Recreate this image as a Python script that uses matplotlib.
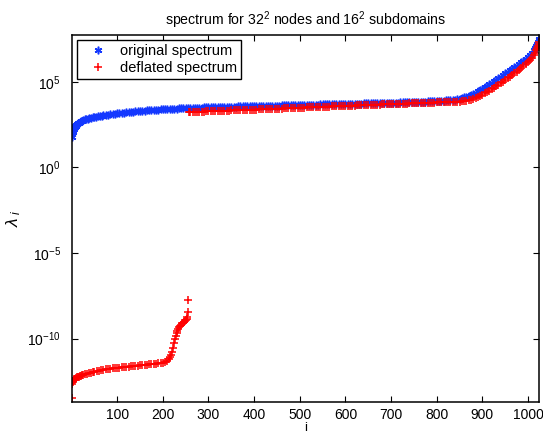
import numpy as np
import matplotlib
matplotlib.use('Agg')
import matplotlib.pyplot as plt

plt.rcParams['font.family'] = ['Liberation Sans', 'DejaVu Sans']
plt.rcParams['mathtext.fontset'] = 'custom'
plt.rcParams['mathtext.rm'] = 'Liberation Sans'
plt.rcParams['mathtext.it'] = 'Liberation Sans:italic'
plt.rcParams['font.size'] = 10

# original spectrum: index i and log10(lambda_i)
orig_i = [1, 2, 3, 4, 5, 6, 7, 8, 9, 10, 12, 14, 16, 18, 20, 23, 26, 29, 32, 35, 38,
          42, 46, 50, 54, 58, 62, 66, 70, 75, 80, 85, 90, 95] \
    + list(range(100, 1001, 5)) + [1004, 1008, 1012, 1015, 1018, 1020, 1022, 1023, 1024]
orig_log = [1.81, 1.98, 2.10, 2.19, 2.26, 2.32, 2.37, 2.41, 2.45, 2.48, 2.54, 2.58, 2.62,
            2.66, 2.69, 2.74, 2.78, 2.81, 2.84, 2.86, 2.88, 2.91, 2.93, 2.95, 2.97, 2.99,
            3.01, 3.03, 3.05, 3.07, 3.09, 3.11, 3.13, 3.15,
            # 100 - 195
            3.17, 3.18, 3.20, 3.21, 3.23, 3.24, 3.25, 3.26, 3.28, 3.29,
            3.30, 3.31, 3.32, 3.33, 3.34, 3.35, 3.36, 3.37, 3.38, 3.39,
            # 200 - 295
            3.40, 3.40, 3.41, 3.42, 3.43, 3.43, 3.44, 3.45, 3.46, 3.46,
            3.47, 3.47, 3.48, 3.48, 3.49, 3.49, 3.50, 3.50, 3.51, 3.51,
            # 300 - 395
            3.52, 3.52, 3.53, 3.53, 3.53, 3.54, 3.54, 3.54, 3.55, 3.55,
            3.56, 3.56, 3.56, 3.57, 3.57, 3.57, 3.58, 3.58, 3.58, 3.59,
            # 400 - 495
            3.59, 3.59, 3.60, 3.60, 3.60, 3.61, 3.61, 3.61, 3.61, 3.62,
            3.62, 3.62, 3.63, 3.63, 3.63, 3.64, 3.64, 3.64, 3.64, 3.65,
            # 500 - 595
            3.65, 3.65, 3.66, 3.66, 3.66, 3.67, 3.67, 3.67, 3.67, 3.68,
            3.68, 3.68, 3.69, 3.69, 3.69, 3.70, 3.70, 3.70, 3.70, 3.71,
            # 600 - 695
            3.71, 3.71, 3.72, 3.72, 3.72, 3.73, 3.73, 3.73, 3.74, 3.74,
            3.74, 3.75, 3.75, 3.75, 3.76, 3.76, 3.77, 3.77, 3.77, 3.78,
            # 700 - 795
            3.78, 3.78, 3.79, 3.79, 3.80, 3.80, 3.81, 3.81, 3.82, 3.82,
            3.83, 3.83, 3.84, 3.84, 3.85, 3.85, 3.86, 3.86, 3.87, 3.87,
            # 800 - 895
            3.88, 3.89, 3.90, 3.91, 3.92, 3.93, 3.94, 3.95, 3.96, 3.98,
            4.01, 4.05, 4.09, 4.14, 4.19, 4.25, 4.31, 4.38, 4.45, 4.53,
            # 900 - 1000
            4.61, 4.69, 4.77, 4.85, 4.94, 5.03, 5.12, 5.21, 5.31, 5.40,
            5.50, 5.59, 5.68, 5.77, 5.86, 5.95, 6.05, 6.14, 6.25, 6.36,
            6.47,
            6.58, 6.70, 6.84, 6.96, 7.09, 7.19, 7.31, 7.39, 7.49]

# deflated spectrum: the 256 near-zero eigenvalues, then the rest
defl_i = [1, 2, 3, 4, 5, 6, 7, 8, 10, 12, 14, 16, 18, 20, 23, 26, 30, 34, 38, 42, 46, 50] \
    + list(range(55, 201, 5)) \
    + [205, 210, 213, 216, 218, 220, 222, 224, 226, 228, 230, 232, 234, 236, 238, 240,
       242, 244, 246, 248, 250, 252, 254, 255, 256, 257] \
    + list(range(260, 1001, 5)) + [1004, 1008, 1012, 1015, 1018, 1020, 1022, 1023, 1024]
defl_log = [-13.45, -12.63, -12.52, -12.46, -12.41, -12.38, -12.35, -12.33, -12.29, -12.26,
            -12.23, -12.22, -12.20, -12.19, -12.15, -12.12, -12.08, -12.05, -12.01, -11.98,
            -11.95, -11.93,
            # 55 - 200
            -11.90, -11.87, -11.85, -11.82, -11.80, -11.78, -11.76, -11.74, -11.72, -11.70,
            -11.69, -11.67, -11.66, -11.64, -11.63, -11.61, -11.60, -11.59, -11.57, -11.56,
            -11.55, -11.53, -11.52, -11.50, -11.49, -11.47, -11.46, -11.44, -11.43, -11.41,
            # 205 - 257
            -11.36, -11.28, -11.20, -11.10, -10.95, -10.75, -10.52, -10.28, -10.03, -9.82,
            -9.65, -9.53, -9.43, -9.34, -9.26, -9.18, -9.11, -9.08, -9.05, -8.98,
            -8.92, -8.85, -8.75, -8.45, -7.76, 3.23,
            # 260 - 355
            3.240, 3.245, 3.250, 3.255, 3.260, 3.265, 3.270, 3.275, 3.280, 3.285,
            3.290, 3.295, 3.300, 3.305, 3.310, 3.315, 3.320, 3.325, 3.330, 3.335,
            # 360 - 455
            3.340, 3.345, 3.350, 3.355, 3.360, 3.365, 3.370, 3.375, 3.380, 3.385,
            3.391, 3.396, 3.402, 3.407, 3.413, 3.418, 3.424, 3.429, 3.435, 3.440,
            # 460 - 555
            3.446, 3.451, 3.457, 3.462, 3.468, 3.473, 3.479, 3.484, 3.490, 3.495,
            3.501, 3.506, 3.512, 3.517, 3.523, 3.528, 3.534, 3.539, 3.545, 3.550,
            # 560 - 655
            3.556, 3.561, 3.567, 3.572, 3.578, 3.583, 3.589, 3.594, 3.600, 3.605,
            3.610, 3.615, 3.620, 3.625, 3.630, 3.635, 3.640, 3.645, 3.650, 3.655,
            # 660 - 755
            3.660, 3.665, 3.670, 3.675, 3.680, 3.685, 3.690, 3.695, 3.700, 3.705,
            3.710, 3.715, 3.720, 3.725, 3.730, 3.735, 3.740, 3.745, 3.750, 3.755,
            # 760 - 855
            3.760, 3.765, 3.770, 3.775, 3.780, 3.785, 3.790, 3.795, 3.800, 3.805,
            3.810, 3.815, 3.820, 3.825, 3.830, 3.835, 3.840, 3.845, 3.850, 3.86,
            # 860 - 955
            3.87, 3.89, 3.92, 3.96, 4.00, 4.06, 4.12, 4.19, 4.26, 4.33,
            4.41, 4.49, 4.57, 4.66, 4.75, 4.84, 4.93, 5.02, 5.11, 5.20,
            # 960 - 1000
            5.30, 5.40, 5.50, 5.60, 5.71, 5.82, 5.93, 6.05, 6.17,
            6.28, 6.41, 6.56, 6.69, 6.84, 6.96, 7.10, 7.20, 7.32]

fig = plt.figure(figsize=(5.43, 4.34), dpi=100)
ax = fig.add_axes([72 / 543, 32 / 434, 467 / 543, 367 / 434])

ax.semilogy(orig_i, 10.0 ** np.array(orig_log), linestyle='none', marker=(6, 2, 0),
            markersize=5.5, markeredgewidth=1.1, color='#1438ff', label='original spectrum')
ax.semilogy(defl_i, 10.0 ** np.array(defl_log), linestyle='none', marker='+',
            markersize=5.5, markeredgewidth=1.1, color='#ff0000', label='deflated spectrum')

ax.set_xlim(1, 1024)
ax.set_ylim(10 ** -13.7, 10 ** 7.74)
ax.set_xticks(range(100, 1001, 100))
ax.set_yticks([1e-10, 1e-5, 1e0, 1e5])
ax.minorticks_off()
ax.tick_params(direction='in', top=True, right=True, length=4, width=0.8)
ax.tick_params(axis='y', pad=8)
ax.tick_params(axis='x', pad=4)
for s in ax.spines.values():
    s.set_linewidth(1.1)

ax.set_title('spectrum for 32$^2$ nodes and 16$^2$ subdomains', fontsize=10.2, pad=7)
ax.set_xlabel('i', labelpad=0.5, fontsize=9.5)
ax.set_ylabel(r'$\lambda_{\ i}$', labelpad=3, fontsize=12.5)

leg = ax.legend(loc='upper left', numpoints=1, fancybox=False, framealpha=1,
                edgecolor='black', borderaxespad=0.33, borderpad=0.3, fontsize=10.5,
                handlelength=2.35, handletextpad=0.3, labelspacing=0.2)
leg.get_frame().set_linewidth(1.0)

plt.savefig('out.png', dpi=100)
